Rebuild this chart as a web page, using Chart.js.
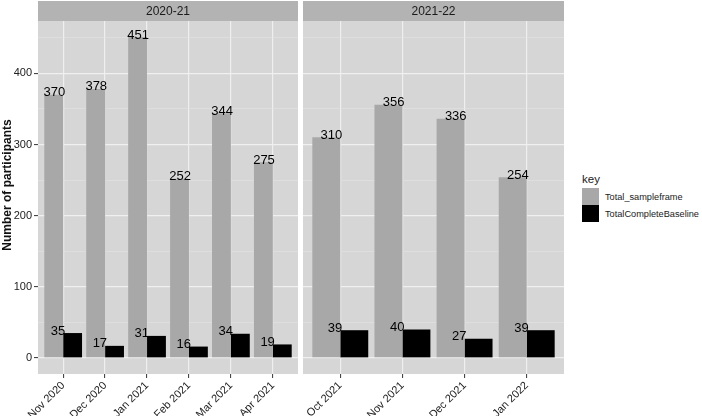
<!DOCTYPE html>
<html>
<head>
<meta charset="utf-8">
<script src="https://cdn.jsdelivr.net/npm/chart.js@4.4.1/dist/chart.umd.min.js"></script>
<style>
  html, body { margin: 0; padding: 0; background: #fff; }
  #wrap { position: relative; width: 702px; height: 416px; overflow: hidden; font-family: "Liberation Sans", Arial, sans-serif; }
  #c1 { position: absolute; left: 0; top: 0; }
  #c2 { position: absolute; left: 303px; top: 0; }
  #legend { position: absolute; left: 582px; top: 172px; color: #1a1a1a; }
  #legend .ttl { font-size: 11.5px; height: 15px; line-height: 15px; margin-bottom: 1px; }
  #legend .row { height: 17px; display: flex; align-items: center; font-size: 9.2px; }
  #legend .sw { width: 17px; height: 17px; margin-right: 6px; }
</style>
</head>
<body>
<div id="wrap">
  <canvas id="c1" width="298" height="416"></canvas>
  <canvas id="c2" width="261" height="416"></canvas>
  <div id="legend"></div>
</div>
<script>
var facets = ["2020-21", "2021-22"];
var months1 = ["Nov 2020", "Dec 2020", "Jan 2021", "Feb 2021", "Mar 2021", "Apr 2021"];
var sample1 = [370, 378, 451, 252, 344, 275];
var complete1 = [35, 17, 31, 16, 34, 19];
var months2 = ["Oct 2021", "Nov 2021", "Dec 2021", "Jan 2022"];
var sample2 = [310, 356, 336, 254];
var complete2 = [39, 40, 27, 39];
var seriesNames = ["Total_sampleframe", "TotalCompleteBaseline"];
var seriesColors = ["#a8a8a8", "#000000"];
var yTicks = [0, 100, 200, 300, 400];
var yTitle = "Number of participants";
var legendTitle = "key";

// shared y range, ggplot style 5% expansion
var allVals = sample1.concat(complete1, sample2, complete2);
var dataMax = Math.max.apply(null, allVals);
var yMin = -dataMax * 0.05;
var yMax = dataMax * 1.05;
var yMinor = yTicks.map(function (v) { return v + 50; });
var FONT = '"Liberation Sans", Arial, sans-serif';

function isMajor(v) { return yTicks.indexOf(v) >= 0; }

var panelBg = {
  id: "panelBg",
  beforeDraw: function (chart, args, opts) {
    var a = chart.chartArea, ctx = chart.ctx;
    ctx.save();
    ctx.fillStyle = "#d6d6d6";
    ctx.fillRect(a.left, a.top, a.right - a.left, a.bottom - a.top);
    ctx.fillStyle = "#b3b3b3";
    ctx.fillRect(a.left, 1, a.right - a.left, a.top - 1);
    ctx.fillStyle = "#1a1a1a";
    ctx.font = "12px " + FONT;
    ctx.textAlign = "center";
    ctx.textBaseline = "middle";
    ctx.fillText(opts.text, (a.left + a.right) / 2, (1 + a.top) / 2 + 1);
    if (opts.yTitle) {
      ctx.translate(8, 185);
      ctx.rotate(-Math.PI / 2);
      ctx.fillStyle = "#111";
      ctx.font = "bold 12px " + FONT;
      ctx.fillText(opts.yTitle, 0, 0);
    }
    ctx.restore();
  }
};

var valueLabels = {
  id: "valueLabels",
  afterDatasetsDraw: function (chart) {
    var ctx = chart.ctx, xs = chart.scales.x, ys = chart.scales.y;
    ctx.save();
    ctx.font = "13px " + FONT;
    ctx.fillStyle = "#000";
    ctx.textAlign = "right";
    ctx.textBaseline = "alphabetic";
    chart.data.datasets.forEach(function (ds) {
      ds.data.forEach(function (p) {
        ctx.fillText(String(p.y), xs.getPixelForValue(p.x) + 2, ys.getPixelForValue(p.y) + 1.5);
      });
    });
    ctx.restore();
  }
};

function points(vals) {
  return vals.map(function (v, i) { return { x: i + 1, y: v }; });
}

function panelChart(id, facet, labels, sample, complete, showY) {
  var xTickVals = labels.map(function (l, i) { return i + 1; });
  return new Chart(document.getElementById(id), {
    type: "bar",
    data: {
      datasets: [
        { label: seriesNames[0], data: points(sample), backgroundColor: seriesColors[0] },
        { label: seriesNames[1], data: points(complete), backgroundColor: seriesColors[1] }
      ]
    },
    options: {
      responsive: false,
      animation: false,
      layout: { padding: { top: 21, left: 0, right: 0, bottom: 0 } },
      datasets: { bar: { categoryPercentage: 0.9, barPercentage: 1 } },
      plugins: {
        legend: { display: false },
        tooltip: { enabled: false },
        panelBg: { text: facet, yTitle: showY ? yTitle : null }
      },
      scales: {
        x: {
          type: "linear",
          offset: false,
          min: 0.4,
          max: labels.length + 0.6,
          afterBuildTicks: function (s) {
            s.ticks = xTickVals.map(function (v) { return { value: v }; });
          },
          afterFit: function (s) { s.height = 42; },
          ticks: {
            autoSkip: false,
            minRotation: 45,
            maxRotation: 45,
            padding: 1,
            color: "#222",
            font: { size: 11, family: FONT },
            callback: function (v) { return labels[v - 1]; }
          },
          grid: { offset: false, color: "#efefef", lineWidth: 1.2, tickLength: 4, tickColor: "#333", tickWidth: 1 },
          border: { display: false }
        },
        y: {
          min: yMin,
          max: yMax,
          afterBuildTicks: function (s) {
            s.ticks = yTicks.concat(yMinor).sort(function (a, b) { return a - b; })
              .map(function (v) { return { value: v }; });
          },
          afterFit: function (s) { s.width = showY ? 38 : 0; },
          ticks: {
            display: showY,
            padding: 2,
            color: "#222",
            font: { size: 11, family: FONT },
            callback: function (v) { return isMajor(v) ? String(v) : ""; }
          },
          grid: {
            drawTicks: showY,
            tickLength: 4,
            tickWidth: 1,
            color: function (c) { return isMajor(c.tick.value) ? "#f0f0f0" : "#e4e4e4"; },
            lineWidth: function (c) { return isMajor(c.tick.value) ? 1.2 : 0.6; },
            tickColor: function (c) { return isMajor(c.tick.value) ? "#333" : "rgba(0,0,0,0)"; }
          },
          border: { display: false }
        }
      }
    },
    plugins: [panelBg, valueLabels]
  });
}

panelChart("c1", facets[0], months1, sample1, complete1, true);
panelChart("c2", facets[1], months2, sample2, complete2, false);

// legend
var legendEl = document.getElementById("legend");
var html = "<div class=\"ttl\">" + legendTitle + "</div>";
seriesNames.forEach(function (name, i) {
  html += "<div class=\"row\"><span class=\"sw\" style=\"background:" + seriesColors[i] + "\"></span><span>" + name + "</span></div>";
});
legendEl.innerHTML = html;
</script>
</body>
</html>
